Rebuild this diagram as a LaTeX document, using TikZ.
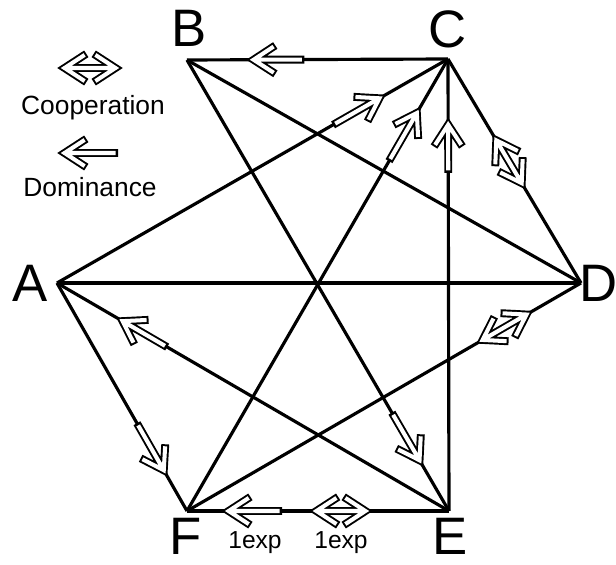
\documentclass[tikz,border=0pt]{standalone}
\usepackage{fontspec}
\setmainfont{Liberation Sans}
\usepackage{tikz}
\usetikzlibrary{calc}
\tikzset{
  line/.style={draw=black, line width=1.8pt},
  arrowout/.style={draw=black, line width=4.5pt},
  arrowin/.style={draw=white, line width=2.3pt},
  vlbl/.style={font=\fontsize{30}{30}\selectfont, inner sep=0pt},
  lbl/.style={font=\fontsize{15}{18}\selectfont, inner sep=0pt, anchor=base},
  xlbl/.style={font=\fontsize{14}{16}\selectfont, inner sep=0pt, anchor=base}
}
% hollow one-way arrow: tail #1, tip #2
\newcommand{\domarrow}[2]{%
  \coordinate (tp) at ($(#2)!0.13cm!(#1)$);
  \draw[arrowout] (#1) -- ($(tp)!0.06cm!(#1)$)
    ($(tp)!0.52cm!33:(#1)$) -- (tp) -- ($(tp)!0.52cm!-33:(#1)$);
  \draw[arrowin] ($(#1)!0.05cm!(tp)$) -- (tp)
    ($(tp)!0.48cm!33:(#1)$) -- (tp) -- ($(tp)!0.48cm!-33:(#1)$);
}
% hollow two-way arrow: tips #1 and #2
\newcommand{\cooparrow}[2]{%
  \coordinate (ta) at ($(#1)!0.13cm!(#2)$);
  \coordinate (tb) at ($(#2)!0.13cm!(#1)$);
  \draw[arrowout] ($(ta)!0.06cm!(tb)$) -- ($(tb)!0.06cm!(ta)$)
    ($(ta)!0.52cm!33:(tb)$) -- (ta) -- ($(ta)!0.52cm!-33:(tb)$)
    ($(tb)!0.52cm!33:(ta)$) -- (tb) -- ($(tb)!0.52cm!-33:(ta)$);
  \draw[arrowin] (ta) -- (tb)
    ($(ta)!0.48cm!33:(tb)$) -- (ta) -- ($(ta)!0.48cm!-33:(tb)$)
    ($(tb)!0.48cm!33:(ta)$) -- (tb) -- ($(tb)!0.48cm!-33:(ta)$);
}

\begin{document}
\begin{tikzpicture}
  \useasboundingbox (0,0) rectangle (12.32,11.28);

  \coordinate (A) at (1.14,5.62);
  \coordinate (B) at (3.74,10.08);
  \coordinate (C) at (8.96,10.10);
  \coordinate (D) at (11.62,5.62);
  \coordinate (E) at (8.98,1.06);
  \coordinate (F) at (3.74,1.06);

  % edges
  \draw[line] (B)--(C);
  \draw[line] (C)--(D);
  \draw[line] (C)--(E);
  \draw[line] (A)--(C);
  \draw[line] (F)--(C);
  \draw[line] (B)--(E);
  \draw[line] (B)--(D);
  \draw[line] (A)--(D);
  \draw[line] (A)--(E);
  \draw[line] (A)--(F);
  \draw[line] (F)--(D);
  \draw[line] (F)--(E);

  % arrow ends along the edges
  \coordinate (bcT) at ($(B)!0.45!(C)$);
  \coordinate (bcH) at ($(B)!0.23!(C)$);
  \coordinate (acT) at ($(A)!0.706!(C)$);
  \coordinate (acH) at ($(A)!0.839!(C)$);
  \coordinate (fcT) at ($(F)!0.774!(C)$);
  \coordinate (fcH) at ($(F)!0.893!(C)$);
  \coordinate (ecT) at ($(E)!0.748!(C)$);
  \coordinate (ecH) at ($(E)!0.869!(C)$);
  \coordinate (aeT) at ($(A)!0.281!(E)$);
  \coordinate (aeH) at ($(A)!0.153!(E)$);
  \coordinate (afT) at ($(A)!0.615!(F)$);
  \coordinate (afH) at ($(A)!0.846!(F)$);
  \coordinate (beT) at ($(B)!0.782!(E)$);
  \coordinate (beH) at ($(B)!0.90!(E)$);
  \coordinate (feT) at ($(F)!0.363!(E)$);
  \coordinate (feH) at ($(F)!0.134!(E)$);
  \coordinate (cd1) at ($(C)!0.338!(D)$);
  \coordinate (cd2) at ($(C)!0.579!(D)$);
  \coordinate (df1) at ($(D)!0.124!(F)$);
  \coordinate (df2) at ($(D)!0.264!(F)$);
  \coordinate (fe1) at ($(F)!0.469!(E)$);
  \coordinate (fe2) at ($(F)!0.706!(E)$);

  \domarrow{bcT}{bcH}
  \domarrow{acT}{acH}
  \domarrow{fcT}{fcH}
  \domarrow{ecT}{ecH}
  \domarrow{aeT}{aeH}
  \domarrow{afT}{afH}
  \domarrow{beT}{beH}
  \domarrow{feT}{feH}
  \cooparrow{cd1}{cd2}
  \cooparrow{df1}{df2}
  \cooparrow{fe1}{fe2}

  % legend
  \coordinate (lc1) at (1.16,9.92);
  \coordinate (lc2) at (2.44,9.92);
  \coordinate (ldT) at (2.36,8.22);
  \coordinate (ldH) at (1.16,8.22);
  \cooparrow{lc1}{lc2}
  \domarrow{ldT}{ldH}
  \node[lbl] (coop) at (1.86,8.98) {Cooperation};
  \node[lbl] (dom) at (1.80,7.34) {Dominance};

  % vertex letters
  \node[vlbl] (labA) at (0.60,5.62) {A};
  \node[vlbl] (labB) at (3.78,10.71) {B};
  \node[vlbl] (labC) at (8.96,10.69) {C};
  \node[vlbl] (labD) at (11.98,5.62) {D};
  \node[vlbl] (labE) at (9.00,0.56) {E};
  \node[vlbl] (labF) at (3.72,0.56) {F};

  \node[xlbl] (exp1) at (5.10,0.32) {1exp};
  \node[xlbl] (exp2) at (6.82,0.32) {1exp};
\end{tikzpicture}
\end{document}
